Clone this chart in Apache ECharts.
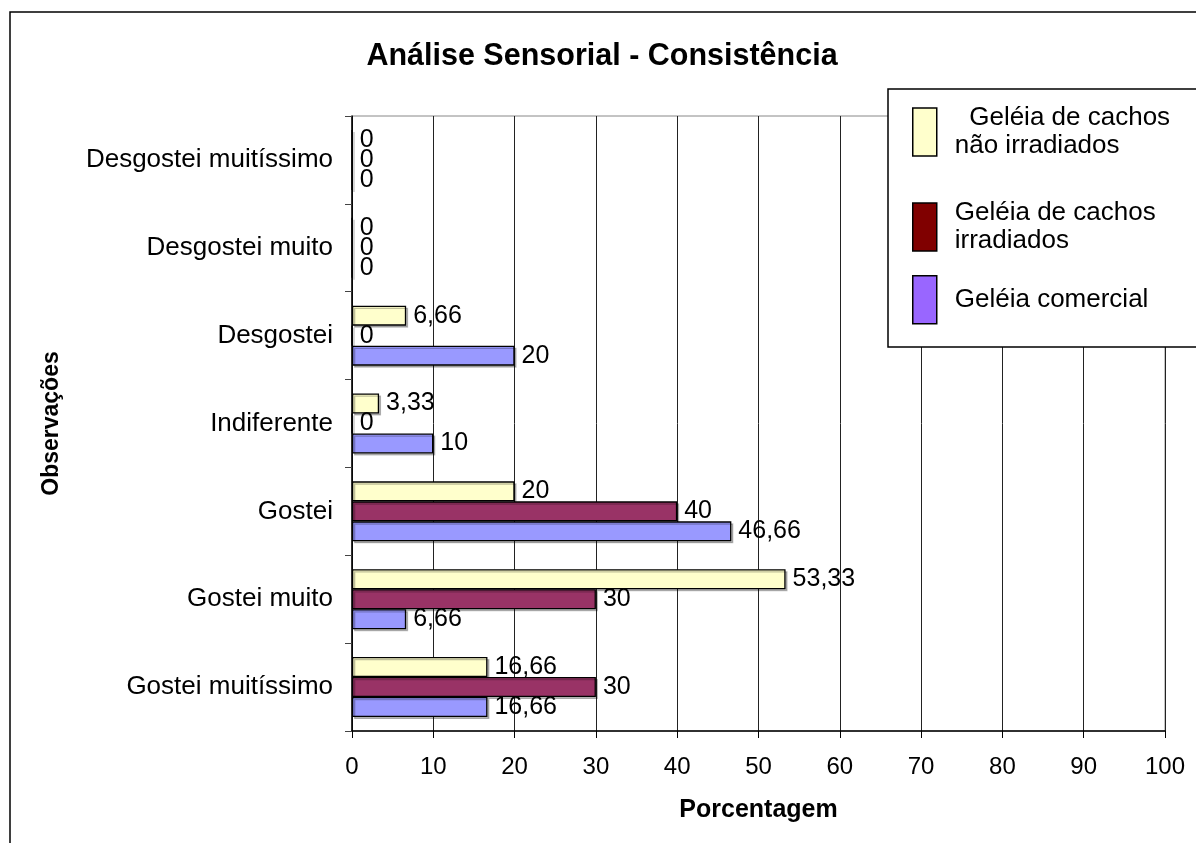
<!DOCTYPE html>
<html lang="pt">
<head>
    <meta charset="UTF-8">
    <title>Análise Sensorial - Consistência</title>
    <script src="https://cdn.jsdelivr.net/npm/echarts@6/dist/echarts.min.js"></script>
    <style>
        html, body { margin: 0; padding: 0; background: #fff; }
        #grafico { width: 1196px; height: 843px; }
    </style>
</head>
<body>
    <div id="grafico"></div>
    <script>
        // categorias (de baixo para cima)
        var categorias = ['Gostei muitíssimo', 'Gostei muito', 'Gostei', 'Indiferente',
            'Desgostei', 'Desgostei muito', 'Desgostei muitíssimo'];
        var naoIrradiados = [16.66, 53.33, 20, 3.33, 6.66, 0, 0];
        var irradiados = [30, 30, 40, 0, 0, 0, 0];
        var comercial = [16.66, 6.66, 46.66, 10, 20, 0, 0];
        var xTicks = [0, 10, 20, 30, 40, 50, 60, 70, 80, 90, 100];

        var nomes = ['  Geléia de cachos\nnão irradiados', 'Geléia de cachos\nirradiados', 'Geléia comercial'];
        var fonte = '"Liberation Sans", Arial, sans-serif';

        function rotulo(p) {
            return String(p.value).replace('.', ',');
        }

        function serie(nome, dados, cor) {
            return {
                name: nome,
                type: 'bar',
                data: dados,
                barWidth: 20,
                barGap: '0%',
                itemStyle: {
                    color: cor, borderColor: '#000', borderWidth: 1.3,
                    shadowColor: 'rgba(0,0,0,0.25)', shadowOffsetX: 2, shadowOffsetY: 2
                },
                label: {
                    show: true, position: 'right', distance: 7,
                    formatter: rotulo,
                    fontFamily: fonte, fontSize: 25, color: '#000'
                }
            };
        }

        function legenda(nome, cor, topo) {
            return {
                orient: 'vertical', left: 912, top: topo, z: 200,
                itemWidth: 24, itemHeight: 48, itemGap: 0, padding: 0,
                selectedMode: false,
                textStyle: { fontFamily: fonte, fontSize: 26, color: '#000', lineHeight: 28, padding: [0, 0, 0, 13] },
                data: [{ name: nome, icon: 'rect', itemStyle: { color: cor, borderColor: '#000', borderWidth: 1.5 } }]
            };
        }

        var myChart = echarts.init(document.getElementById('grafico'));
        myChart.setOption({
            backgroundColor: '#fff',
            animation: false,
            title: {
                text: 'Análise Sensorial - Consistência',
                left: 597, top: 36, textAlign: 'center',
                textStyle: { fontFamily: fonte, fontSize: 30.5, fontWeight: 'bold', color: '#000' }
            },
            graphic: [{
                type: 'rect', z: 0, silent: true,
                shape: { x: 10, y: 12, width: 1250, height: 900 },
                style: { fill: null, stroke: '#000', lineWidth: 1.5 }
            }, {
                type: 'rect', z: 150, silent: true,
                shape: { x: 888, y: 89, width: 400, height: 258 },
                style: { fill: '#fff', stroke: '#000', lineWidth: 1.5 }
            }],
            legend: [
                legenda(nomes[0], '#FFFFCC', 104),
                legenda(nomes[1], '#800000', 199),
                legenda(nomes[2], '#9966FF', 275)
            ],
            grid: {
                left: 352, top: 116, right: 31, bottom: 112,
                show: true, borderColor: '#888', borderWidth: 1
            },
            xAxis: {
                type: 'value', min: 0, max: 100, interval: 10,
                name: 'Porcentagem', nameLocation: 'middle', nameGap: 67,
                nameTextStyle: { fontFamily: fonte, fontSize: 25, fontWeight: 'bold', color: '#000' },
                axisLine: { show: true, lineStyle: { color: '#000', width: 1.5 } },
                axisTick: { show: true, length: 7, lineStyle: { color: '#000' } },
                axisLabel: {
                    margin: 24, fontFamily: fonte, fontSize: 24, color: '#000',
                    formatter: function (v) { return xTicks.indexOf(v) >= 0 ? String(v) : ''; }
                },
                splitLine: { show: true, lineStyle: { color: '#222', width: 1 } }
            },
            yAxis: {
                type: 'category', data: categorias,
                name: 'Observações', nameLocation: 'middle', nameGap: 289, nameRotate: 90,
                nameTextStyle: { fontFamily: fonte, fontSize: 23, fontWeight: 'bold', color: '#000' },
                axisLine: { show: true, lineStyle: { color: '#000', width: 1.5 } },
                axisTick: { show: true, length: 7, lineStyle: { color: '#444' } },
                axisLabel: { margin: 19, fontFamily: fonte, fontSize: 26, color: '#000' },
                splitLine: { show: false }
            },
            // primeira série fica no topo de cada grupo
            series: [
                serie(nomes[0], naoIrradiados, '#FFFFCC'),
                serie(nomes[1], irradiados, '#993366'),
                serie(nomes[2], comercial, '#9999FF')
            ]
        });
    </script>
</body>
</html>
